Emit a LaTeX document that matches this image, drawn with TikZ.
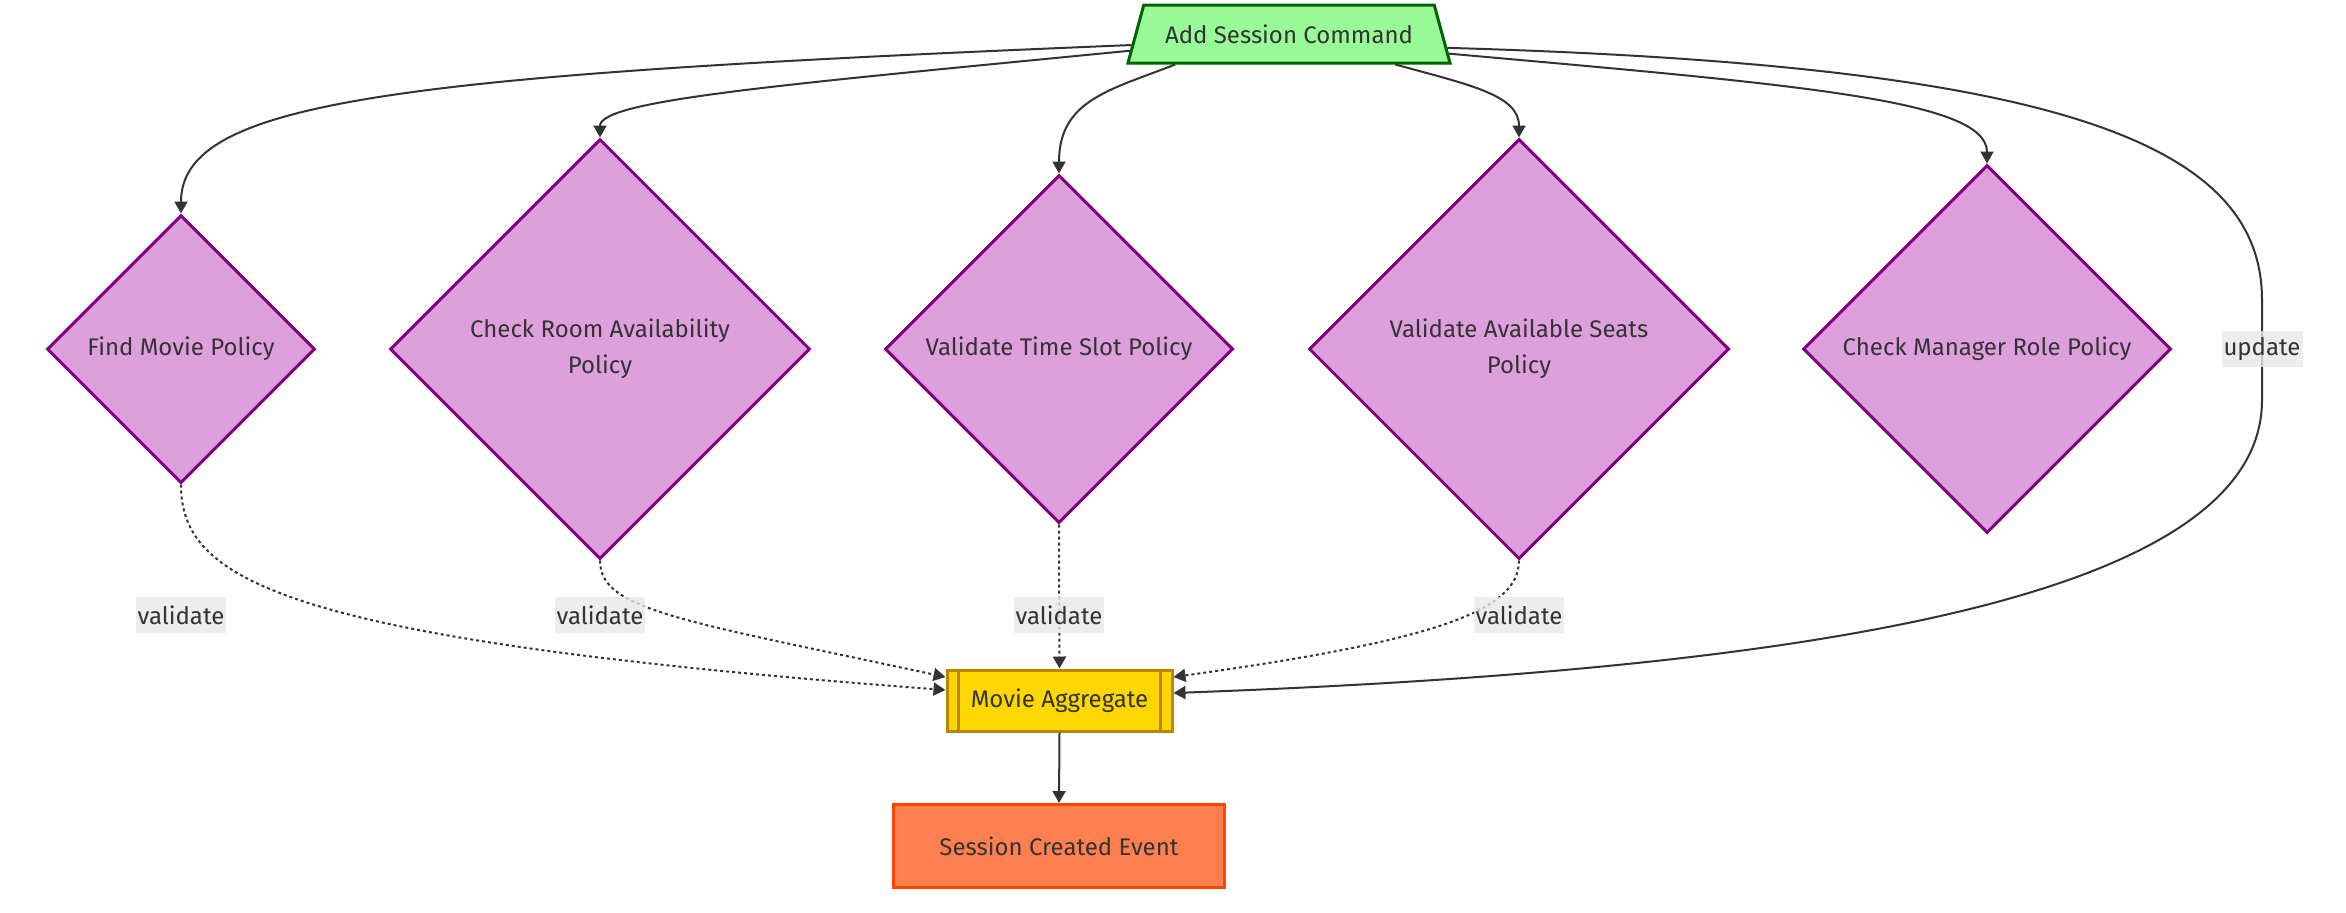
\documentclass[tikz,border=0pt]{standalone}
\usepackage{fontspec}
\setmainfont{Fira Sans}
\usetikzlibrary{shapes.geometric,arrows.meta,calc}
\definecolor{cmdfill}{HTML}{98FB98}
\definecolor{cmdline}{HTML}{006400}
\definecolor{polfill}{HTML}{DDA0DD}
\definecolor{polline}{HTML}{800080}
\definecolor{aggfill}{HTML}{FFD700}
\definecolor{aggline}{HTML}{B8860B}
\definecolor{evfill}{HTML}{FF7F50}
\definecolor{evline}{HTML}{FF4500}
\definecolor{edgec}{HTML}{333333}
\definecolor{txt}{HTML}{333333}
\definecolor{lblbg}{HTML}{E8E8E8}
\begin{document}
\begin{tikzpicture}[x=0.5pt,y=-0.5pt,
  every node/.style={font=\fontsize{12pt}{18pt}\selectfont, text=txt},
  pol/.style={diamond, draw=polline, fill=polfill, line width=1.5pt, inner sep=0pt, align=center},
  conn/.style={draw=edgec, line width=1pt, -{Triangle[length=6pt,width=6.5pt]}},
  dotconn/.style={conn, dash pattern=on 1.5pt off 1.5pt},
  lbl/.style={fill=lblbg, fill opacity=0.8, text opacity=1, inner xsep=1pt, inner ysep=0pt, minimum height=18pt}
]
\useasboundingbox (0,0) rectangle (2346,912);

% nodes
\node[trapezium, trapezium left angle=64, trapezium right angle=64, trapezium stretches body,
      minimum width=161pt, minimum height=29pt, draw=cmdline, fill=cmdfill, line width=1.5pt]
      (cmd) at (1289,34) {Add Session Command};

\node[pol, minimum width=134pt, minimum height=134pt] (fm) at (181,349) {Find Movie Policy};
\node[pol, minimum width=210pt, minimum height=210pt] (cr) at (600,349) {Check Room Availability\\Policy};
\node[pol, minimum width=174pt, minimum height=174pt] (ts) at (1059,349) {Validate Time Slot Policy};
\node[pol, minimum width=210pt, minimum height=210pt] (vs) at (1519,349) {Validate Available Seats\\Policy};
\node[pol, minimum width=184pt, minimum height=184pt] (mg) at (1987,349) {Check Manager Role Policy};

\node[draw=aggline, fill=aggfill, line width=1.5pt, minimum width=112.5pt, minimum height=30.5pt, inner sep=0pt]
      (agg) at (1059.5,700.5) {Movie Aggregate};
\draw[aggline, line width=1.5pt] ([xshift=6.5pt]agg.north west) -- ([xshift=6.5pt]agg.south west);
\draw[aggline, line width=1.5pt] ([xshift=-6.5pt]agg.north east) -- ([xshift=-6.5pt]agg.south east);

\node[draw=evline, fill=evfill, line width=1.5pt, minimum width=165.5pt, minimum height=41.5pt, inner sep=0pt]
      (ev) at (1059,846) {Session Created Event};

% command -> policies
\draw[conn] (cmd.184) .. controls (400,75) and (181,100) .. (fm.north);
\draw[conn] (cmd.186.3) .. controls (780,85) and (600,100) .. (cr.north);
\draw[conn] (cmd.195.9) .. controls (1110,90) and (1059,100) .. (ts.north);
\draw[conn] (cmd.344.1) .. controls (1470,85) and (1519,95) .. (vs.north);
\draw[conn] (cmd.353.7) .. controls (1800,85) and (1987,100) .. (mg.north);

% update
\draw[conn] (cmd.355.6) .. controls (2050,65) and (2262,140) .. (2262,300) -- (2262,400)
      .. controls (2262,600) and (1800,670) .. ([yshift=3.75pt]agg.east);

% validate
\draw[dotconn] (fm.south) .. controls (181,580) and (280,640) .. ([yshift=5.25pt]agg.west);
\draw[dotconn] (cr.south) .. controls (600,610) and (680,620) .. ([yshift=11.75pt]agg.west);
\draw[dotconn] (ts.south) -- (agg.north);
\draw[dotconn] (vs.south) .. controls (1519,610) and (1440,640) .. ([yshift=11.75pt]agg.east);

% aggregate -> event
\draw[conn] (agg.south) -- (ev.north);

% labels
\node[lbl] (l1) at (181,615) {validate};
\node[lbl] (l2) at (600,615) {validate};
\node[lbl] (l3) at (1059,615) {validate};
\node[lbl] (l4) at (1519,615) {validate};
\node[lbl] (l5) at (2262,349) {update};
\end{tikzpicture}
\end{document}
